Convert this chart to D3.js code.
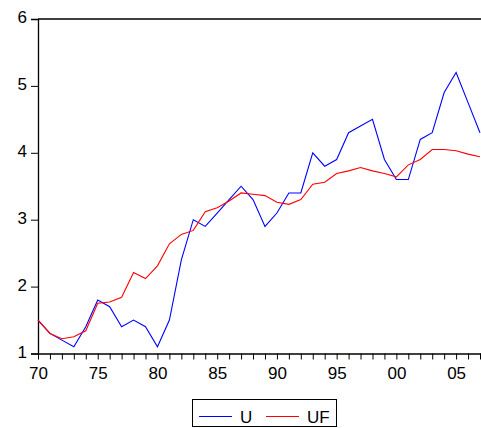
<!DOCTYPE html>
<html>
<head>
<meta charset="utf-8">
<script src="https://cdn.jsdelivr.net/npm/d3@7"></script>
<style>
  html, body { margin: 0; padding: 0; background: #fff; }
  svg { display: block; font-family: "Liberation Sans", Arial, sans-serif; }
</style>
</head>
<body>
<svg id="chart" width="481" height="428"></svg>
<script>
// Annual series 1970-2007: actual U and fitted UF
const years = d3.range(1970, 2008);
const uValues = [1.5, 1.3, 1.2, 1.1, 1.4, 1.8, 1.7, 1.4, 1.5, 1.4,
                 1.1, 1.5, 2.4, 3.0, 2.9, 3.1, 3.3, 3.5, 3.3, 2.9,
                 3.1, 3.4, 3.4, 4.0, 3.8, 3.9, 4.3, 4.4, 4.5, 3.9,
                 3.6, 3.6, 4.2, 4.3, 4.9, 5.2, 4.75, 4.3];
const ufValues = [1.5, 1.3, 1.22, 1.25, 1.34, 1.75, 1.77, 1.84, 2.21, 2.12,
                  2.31, 2.64, 2.78, 2.84, 3.12, 3.18, 3.28, 3.4, 3.38, 3.36,
                  3.26, 3.23, 3.3, 3.53, 3.56, 3.69, 3.73, 3.78, 3.73, 3.69,
                  3.64, 3.82, 3.9, 4.05, 4.05, 4.03, 3.98, 3.94];
const yTicks = [1, 2, 3, 4, 5, 6];
const xMajorTicks = [1970, 1975, 1980, 1985, 1990, 1995, 2000, 2005];
const seriesNames = ["U", "UF"];
const seriesColors = ["#0000ff", "#ff0000"];

const svg = d3.select("#chart");
const plotLeft = 38, plotRight = 480, plotTop = 19, plotBottom = 353.5;
const fontSize = 17;

const x = d3.scaleLinear().domain([1970, 2007]).range([plotLeft, plotRight]);
const y = d3.scaleLinear().domain([1, 6]).range([plotBottom, plotTop]);

// frame: top border
svg.append("line").attr("x1", plotLeft).attr("x2", 481).attr("y1", plotTop).attr("y2", plotTop)
  .attr("stroke", "#000").attr("stroke-width", 1.3);

// y axis
const yAxis = d3.axisLeft(y).tickValues(yTicks).tickSize(7).tickPadding(4)
  .tickFormat(d3.format("d"));
const gy = svg.append("g").attr("transform", `translate(${plotLeft},0)`).call(yAxis);
gy.select(".domain").attr("stroke-width", 1.3);
gy.selectAll("text").attr("font-size", fontSize).attr("fill", "#000").attr("dy", "0.22em");

// x axis: minor tick every year, labels on five-year marks
const xAxis = d3.axisBottom(x).tickValues(years).tickSize(6).tickPadding(7)
  .tickFormat(d => xMajorTicks.includes(d) ? String(d).slice(2) : "");
const gx = svg.append("g").attr("transform", `translate(0,${plotBottom})`).call(xAxis);
gx.select(".domain").attr("stroke-width", 1.3).attr("d", `M${plotLeft},0.5H481`);
gx.selectAll("text").attr("font-size", fontSize).attr("fill", "#000");

// series lines
const line = d3.line().x((d, i) => x(years[i])).y(d => y(d));
[uValues, ufValues].forEach((vals, k) => {
  svg.append("path").datum(vals)
    .attr("fill", "none")
    .attr("stroke", seriesColors[k])
    .attr("stroke-width", 1.1)
    .attr("d", line);
});

// legend
const lg = svg.append("g");
lg.append("rect").attr("x", 192.5).attr("y", 399.5).attr("width", 144).attr("height", 27)
  .attr("fill", "#fff").attr("stroke", "#000").attr("stroke-width", 1);
const legendX = [199, 266];
const legendTextX = [240, 307];
seriesNames.forEach((name, k) => {
  lg.append("line").attr("x1", legendX[k]).attr("x2", legendX[k] + 33)
    .attr("y1", 416.5).attr("y2", 416.5)
    .attr("stroke", seriesColors[k]).attr("stroke-width", 1);
  lg.append("text").attr("x", legendTextX[k]).attr("y", 422.5)
    .attr("font-size", fontSize).attr("fill", "#000").text(name);
});
</script>
</body>
</html>
